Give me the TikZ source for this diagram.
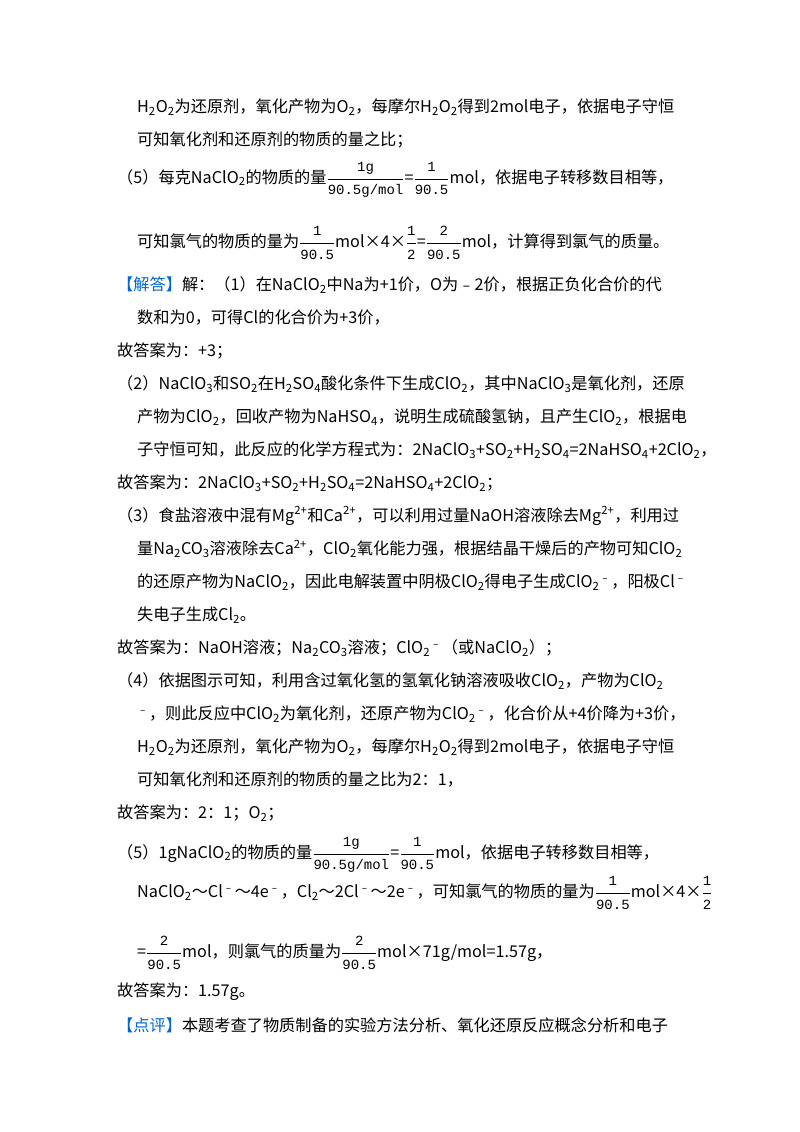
\documentclass[tikz,border=0pt]{standalone}
\usepackage{amsmath}
\usepackage{fontspec}
\setmainfont{Noto Sans CJK SC}
\newfontfamily\numf{Liberation Mono}
\definecolor{jd}{RGB}{0,102,204}
\newcommand{\xsb}[1]{\textsubscript{#1}}
\newcommand{\xsp}[1]{\textsuperscript{#1}}
\newcommand{\fr}[2]{$\genfrac{}{}{0.5pt}{0}{\mbox{\numf\fontsize{14}{15}\selectfont #1}}{\mbox{\numf\fontsize{14}{15}\selectfont #2}}$}
\begin{document}
\begin{tikzpicture}[x=1pt,y=-1pt,
  ln/.style={anchor=west,inner sep=0pt,font=\fontsize{16.2}{19}\selectfont}]
\useasboundingbox (0,0) rectangle (800,1132);
\node[ln] (l1) at (137,107) {H\xsb{2}O\xsb{2}为还原剂，氧化产物为O\xsb{2}，每摩尔H\xsb{2}O\xsb{2}得到2mol电子，依据电子守恒};
\node[ln] (l2) at (137,140) {可知氧化剂和还原剂的物质的量之比；};
\node[ln] (l3) at (117,180) {（5）每克NaClO\xsb{2}的物质的量\fr{1g}{90.5g/mol}=\fr{1}{90.5}mol，依据电子转移数目相等，};
\node[ln] (l4) at (137,243) {可知氯气的物质的量为\fr{1}{90.5}mol×4×\fr{1}{2}=\fr{2}{90.5}mol，计算得到氯气的质量。};
\node[ln] (l5) at (117,285) {\textcolor{jd}{【解答】}解：（1）在NaClO\xsb{2}中Na为+1价，O为﹣2价，根据正负化合价的代};
\node[ln] (l6) at (137,318) {数和为0，可得Cl的化合价为+3价，};
\node[ln] (l7) at (117,351) {故答案为：+3；};
\node[ln] (l8) at (117,384) {（2）NaClO\xsb{3}和SO\xsb{2}在H\xsb{2}SO\xsb{4}酸化条件下生成ClO\xsb{2}，其中NaClO\xsb{3}是氧化剂，还原};
\node[ln] (l9) at (137,417) {产物为ClO\xsb{2}，回收产物为NaHSO\xsb{4}，说明生成硫酸氢钠，且产生ClO\xsb{2}，根据电};
\node[ln] (l10) at (137,450) {子守恒可知，此反应的化学方程式为：2NaClO\xsb{3}+SO\xsb{2}+H\xsb{2}SO\xsb{4}=2NaHSO\xsb{4}+2ClO\xsb{2}，};
\node[ln] (l11) at (117,483) {故答案为：2NaClO\xsb{3}+SO\xsb{2}+H\xsb{2}SO\xsb{4}=2NaHSO\xsb{4}+2ClO\xsb{2}；};
\node[ln] (l12) at (117,516) {（3）食盐溶液中混有Mg\xsp{2+}和Ca\xsp{2+}，可以利用过量NaOH溶液除去Mg\xsp{2+}，利用过};
\node[ln] (l13) at (137,549) {量Na\xsb{2}CO\xsb{3}溶液除去Ca\xsp{2+}，ClO\xsb{2}氧化能力强，根据结晶干燥后的产物可知ClO\xsb{2}};
\node[ln] (l14) at (137,582) {的还原产物为NaClO\xsb{2}，因此电解装置中阴极ClO\xsb{2}得电子生成ClO\xsb{2}\xsp{﹣}，阳极Cl\xsp{﹣}};
\node[ln] (l15) at (137,615) {失电子生成Cl\xsb{2}。};
\node[ln] (l16) at (117,648) {故答案为：NaOH溶液；Na\xsb{2}CO\xsb{3}溶液；ClO\xsb{2}\xsp{﹣}（或NaClO\xsb{2}）；};
\node[ln] (l17) at (117,681) {（4）依据图示可知，利用含过氧化氢的氢氧化钠溶液吸收ClO\xsb{2}，产物为ClO\xsb{2}};
\node[ln] (l18) at (137,714) {\xsp{﹣}，则此反应中ClO\xsb{2}为氧化剂，还原产物为ClO\xsb{2}\xsp{﹣}，化合价从+4价降为+3价，};
\node[ln] (l19) at (137,747) {H\xsb{2}O\xsb{2}为还原剂，氧化产物为O\xsb{2}，每摩尔H\xsb{2}O\xsb{2}得到2mol电子，依据电子守恒};
\node[ln] (l20) at (137,780) {可知氧化剂和还原剂的物质的量之比为2：1，};
\node[ln] (l21) at (117,813) {故答案为：2：1；O\xsb{2}；};
\node[ln] (l22) at (117,855) {（5）1gNaClO\xsb{2}的物质的量\fr{1g}{90.5g/mol}=\fr{1}{90.5}mol，依据电子转移数目相等，};
\node[ln] (l23) at (137,893) {NaClO\xsb{2}～Cl\xsp{﹣}～4e\xsp{﹣}，Cl\xsb{2}～2Cl\xsp{﹣}～2e\xsp{﹣}，可知氯气的物质的量为\fr{1}{90.5}mol×4×\fr{1}{2}};
\node[ln] (l24) at (137,953) {=\fr{2}{90.5}mol，则氯气的质量为\fr{2}{90.5}mol×71g/mol=1.57g，};
\node[ln] (l25) at (117,992) {故答案为：1.57g。};
\node[ln] (l26) at (117,1025) {\textcolor{jd}{【点评】}本题考查了物质制备的实验方法分析、氧化还原反应概念分析和电子};
\end{tikzpicture}
\end{document}
